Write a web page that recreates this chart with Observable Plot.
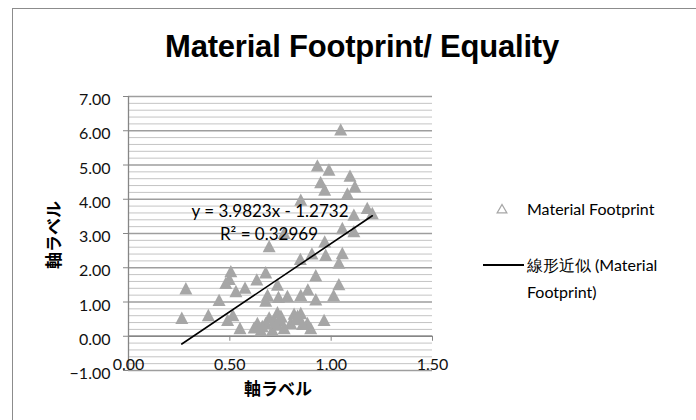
<!DOCTYPE html>
<html>
<head>
<meta charset="utf-8">
<script src="https://cdn.jsdelivr.net/npm/d3@7"></script>
<script src="https://cdn.jsdelivr.net/npm/@observablehq/plot@0.6"></script>
<style>
  body { margin: 0; background: #fff; }
  #wrap { position: relative; width: 696px; height: 420px; overflow: hidden; font-family: Lato, "Noto Sans", sans-serif; color: #000; }
  #border { position: absolute; left: 12px; top: 8px; width: 760px; height: 480px; border: 1px solid #8c8c8c; box-sizing: border-box; }
  #chart { position: absolute; left: 0; top: 0; }
  .c { position: absolute; transform: translate(-50%, -50%); white-space: nowrap; line-height: 1; }
  .l { position: absolute; white-space: nowrap; line-height: 1; }
  #title { font-family: "Liberation Sans", Arial, sans-serif; font-weight: bold; font-size: 31px; letter-spacing: -0.2px; }
  .axt { font-family: "Noto Sans CJK JP", sans-serif; font-weight: bold; font-size: 17px; }
  .eq { font-size: 17px; }
  .leg { font-size: 16px; }
</style>
</head>
<body>
<div id="wrap">
  <div id="border"></div>
  <div id="chart"></div>
</div>
<script>
// ---- data ----
const chartTitle = "Material Footprint/ Equality";
const axisTitle = "軸ラベル";
const seriesName = "Material Footprint";
const trendNameLines = ["線形近似 (Material", "Footprint)"];
const trendSlope = 3.9823;
const trendIntercept = -1.2732;
const trendSlopeText = "3.9823";
const trendInterceptText = "1.2732";
const rSquaredText = "0.32969";

const xTicks = [0, 0.5, 1, 1.5];
const yTicks = [-1, 0, 1, 2, 3, 4, 5, 6, 7];
const yMinorStep = 0.2;

const xValues = [
  1.047, 0.932, 0.989, 1.093, 0.948, 1.117, 0.968, 1.080, 0.850, 1.178,
  1.203, 1.112, 1.055, 1.112, 0.968, 0.768, 0.694, 0.905, 0.973, 1.055,
  0.848, 1.038, 0.505, 0.497, 0.677, 0.633, 0.924, 0.480, 0.575, 0.530,
  0.735, 1.038, 0.283, 0.447, 0.686, 0.740, 0.784, 0.850, 0.885, 0.924,
  1.012, 0.677, 0.263, 0.394, 0.515, 0.489, 0.550, 0.817, 0.850, 0.965,
  0.636, 0.694, 0.735, 0.751, 0.800, 0.830, 0.883, 0.899, 0.653, 0.710,
  0.768, 0.620, 0.735, 0.677, 0.718, 0.752, 0.834, 0.859, 0.660
];
const yValues = [
  6.04, 4.99, 4.87, 4.69, 4.50, 4.38, 4.28, 4.17, 3.99, 3.75,
  3.60, 3.55, 3.16, 3.07, 2.77, 3.02, 2.63, 2.42, 2.38, 2.43,
  2.26, 2.15, 1.90, 1.68, 1.87, 1.66, 1.78, 1.56, 1.42, 1.32,
  1.51, 1.52, 1.40, 1.06, 1.21, 1.15, 1.18, 1.21, 1.37, 1.08,
  1.20, 1.04, 0.54, 0.62, 0.62, 0.48, 0.24, 0.66, 0.68, 0.48,
  0.39, 0.55, 0.70, 0.46, 0.39, 0.50, 0.39, 0.24, 0.18, 0.19,
  0.24, 0.26, 0.34, 0.39, 0.46, 0.60, 0.60, 0.36, 0.30
];

// ---- build ----
const W = 696, H = 420;
const mL = 128, mR = 264, mT = 96, mB = 50;
const unitPx = (H - mT - mB) / (yTicks[yTicks.length - 1] - yTicks[0]);

const points = xValues.map((x, i) => ({x, y: yValues[i]}));
const trend = d3.extent(xValues).map(x => ({x, y: trendSlope * x + trendIntercept}));
const yMinor = d3.range(Math.round((yTicks[yTicks.length-1] - yTicks[0]) / yMinorStep) + 1)
  .map(i => +(yTicks[0] + i * yMinorStep).toFixed(2))
  .filter(v => !yTicks.includes(v));
const fmt = d3.format(".2f");

// Excel-like triangle marker (about as tall as it is wide, centred on the point)
const excelTriangle = {
  draw(context, size) {
    const hw = Math.sqrt(size / Math.PI) * 1.3;
    const hh = hw * 0.95;
    context.moveTo(0, -hh);
    context.lineTo(hw, hh);
    context.lineTo(-hw, hh);
    context.closePath();
  }
};

const plot = Plot.plot({
  width: W, height: H,
  marginLeft: mL, marginRight: mR, marginTop: mT, marginBottom: mB,
  x: {domain: [xTicks[0], xTicks[xTicks.length - 1]]},
  y: {domain: [yTicks[0], yTicks[yTicks.length - 1]]},
  style: {fontFamily: "Lato, 'Noto Sans', sans-serif", fontSize: "16px", color: "#000", background: "transparent", overflow: "visible"},
  marks: [
    Plot.ruleY(yMinor, {stroke: "#c4c4c4", strokeWidth: 1}),
    Plot.ruleY(yTicks, {stroke: "#9e9e9e", strokeWidth: 1.3}),
    Plot.ruleX([xTicks[0]], {stroke: "#868686", strokeWidth: 1.3}),
    Plot.ruleY([0], {stroke: "#868686", strokeWidth: 1.3}),
    // y axis ticks (outside) and labels
    Plot.axisY({ticks: yTicks, tickSize: 5, tickFormat: null, fill: "none", stroke: "#868686", label: null}),
    Plot.axisY({ticks: yTicks, tickSize: 0, tickPadding: 18, tickFormat: fmt, stroke: "none", fill: "#111", dy: 3.5, label: null}),
    // x axis sits at y = 0: ticks outside, labels below
    Plot.axisX({ticks: xTicks, tickSize: 5, tickFormat: null, fill: "none", stroke: "#868686", dy: -unitPx * (0 - yTicks[0]), label: null}),
    Plot.axisX({ticks: xTicks, tickSize: 0, tickPadding: 0, tickFormat: fmt, stroke: "none", fill: "#111", dy: -12, label: null}),
    Plot.dot(points, {x: "x", y: "y", symbol: excelTriangle, r: 5, fill: "#a6a6a6", stroke: "none"}),
    Plot.line(trend, {x: "x", y: "y", stroke: "#000", strokeWidth: 1.6})
  ]
});
document.getElementById("chart").appendChild(plot);

// ---- text around the plot ----
const wrap = document.getElementById("wrap");
function addText(cls, text, left, top, extra) {
  const d = document.createElement("div");
  d.className = cls;
  d.textContent = text;
  d.style.left = left + "px";
  d.style.top = top + "px";
  if (extra) Object.assign(d.style, extra);
  wrap.appendChild(d);
  return d;
}
addText("c", chartTitle, 362, 46).id = "title";
addText("c axt", axisTitle, 278, 387);
addText("c axt", axisTitle, 52, 235, {transform: "translate(-50%, -50%) rotate(-90deg)"});
addText("c eq", `y = ${trendSlopeText}x - ${trendInterceptText}`, 270, 210);
const r2 = addText("c eq", "", 269, 233);
r2.innerHTML = `R² = ${rSquaredText}`;

// legend
const sym = document.createElementNS("http://www.w3.org/2000/svg", "svg");
sym.setAttribute("width", 14); sym.setAttribute("height", 12);
sym.style.position = "absolute"; sym.style.left = "495px"; sym.style.top = "203px";
const tri = document.createElementNS("http://www.w3.org/2000/svg", "path");
tri.setAttribute("d", d3.symbol(d3.symbolTriangle, 40)());
tri.setAttribute("transform", "translate(7,7)");
tri.setAttribute("fill", "none"); tri.setAttribute("stroke", "#a6a6a6"); tri.setAttribute("stroke-width", 1.3);
sym.appendChild(tri);
wrap.appendChild(sym);
addText("l leg", seriesName, 527, 201);
const ln = document.createElement("div");
Object.assign(ln.style, {position: "absolute", left: "483px", top: "264px", width: "41px", height: "0", borderTop: "2px solid #000"});
wrap.appendChild(ln);
addText("l leg", trendNameLines[0], 527, 257);
addText("l leg", trendNameLines[1], 527, 284);
</script>
</body>
</html>
